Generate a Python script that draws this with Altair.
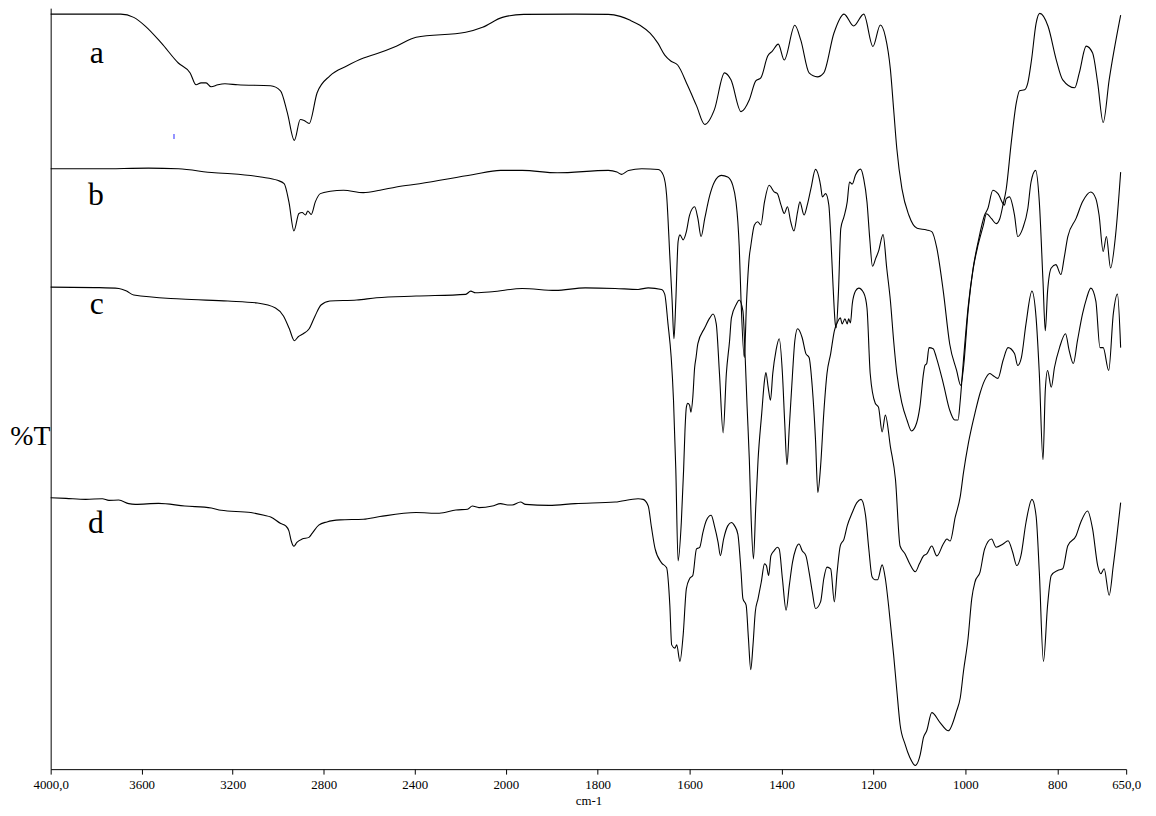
import altair as alt
import pandas as pd

# ---- spectrum a ----
wn_a = [4000, 3692, 3635, 3583, 3513, 3439, 3387, 3361, 3339, 3317, 3295, 3265, 3234, 3178, 3034, 2990, 2960, 2929,
        2903, 2886, 2864, 2829, 2773, 2699, 2625, 2568, 2481, 2394, 2176, 2102, 2015, 1961, 1849, 1777, 1751, 1729,
        1708, 1686, 1669, 1654, 1641, 1626, 1604, 1585, 1567, 1546, 1524, 1510, 1488, 1470, 1456, 1445, 1430, 1420,
        1407, 1394, 1371, 1358, 1340, 1322, 1308, 1286, 1264, 1243, 1221, 1201, 1185, 1174, 1163, 1156, 1149, 1138,
        1123, 1105, 1084, 1073, 1062, 1048, 1034, 1019, 1010, 1004, 994, 983, 972, 961, 954, 943, 933, 925, 918, 911,
        900, 889, 882, 871, 864, 856, 846, 838, 820, 802, 788, 762, 752, 737, 723, 712, 700, 687, 662]
t_a = [10.7, 10.7, 14, 23, 40, 60, 70, 82, 80, 80, 84, 82, 81, 82, 83, 88, 110, 138, 117, 118, 121, 90, 73, 63, 55,
       50.7, 43, 34, 29, 24, 14, 11, 10.7, 11, 13, 17, 22, 30, 40, 52, 58, 62, 83, 103, 122, 107, 70, 77, 109, 97, 78,
       75, 53, 48, 41, 57, 22, 37, 70, 74, 70, 30, 10.7, 22.7, 10.7, 43.3, 21.7, 33.3, 66.7, 106.7, 146.7, 186.7,
       213.3, 226.7, 228.3, 230, 246.7, 290, 343.3, 370, 385, 367, 310, 268, 243, 224, 212, 217, 222, 217, 203, 187,
       140, 100, 88, 87, 80, 57, 20, 10, 23, 57, 77, 85, 70, 43, 50, 80, 120, 77, 11.7]

# ---- spectrum b ----
wn_b = [4000, 3788, 3570, 3439, 3279, 3207, 3076, 3003, 2974, 2953, 2931, 2909, 2895, 2880, 2870, 2855, 2837, 2815,
        2771, 2713, 2626, 2553, 2481, 2379, 2147, 2023, 1964, 1888, 1777, 1758, 1748, 1733, 1704, 1668, 1657, 1650,
        1643, 1638, 1634, 1630, 1625, 1621, 1614, 1607, 1600, 1589, 1582, 1575, 1567, 1556, 1546, 1531, 1517, 1506,
        1499, 1495, 1492, 1488, 1481, 1476, 1470, 1467, 1459, 1452, 1445, 1437, 1427, 1416, 1409, 1401, 1394, 1387,
        1380, 1373, 1365, 1360, 1351, 1344, 1336, 1326, 1315, 1311, 1304, 1297, 1293, 1288, 1283, 1281, 1276, 1271,
        1264, 1257, 1252, 1246, 1239, 1228, 1221, 1214, 1208, 1202, 1195, 1189, 1179, 1171, 1163, 1156, 1149, 1138,
        1127, 1117, 1106, 1099, 1091, 1088, 1084, 1079, 1070, 1063, 1048, 1034, 1023, 1016, 1011, 1005, 994, 983, 972,
        958, 951, 940, 929, 915, 911, 904, 893, 886, 875, 864, 857, 847, 839, 831, 826, 821, 813, 803, 792, 785, 777,
        759, 745, 727, 716, 709, 700, 693, 684, 673, 662]
t_b = [166.7, 166.7, 166, 166.7, 170.7, 171.7, 175, 178.3, 181.7, 200, 229.3, 211.7, 210.7, 213.3, 209.3, 212.7, 200,
       191.7, 189.3, 188.3, 190.7, 188.3, 185, 181.7, 172.7, 168.3, 168.3, 170.7, 168.3, 170, 172.3, 168.3, 166.7,
       167.3, 173.3, 193.3, 255, 300, 338, 300, 240, 233.3, 238.3, 230, 213.3, 205, 216.7, 235, 216.7, 193.3, 180,
       173.3, 175, 183.3, 200, 220, 245, 300, 357, 300, 255, 245, 223.3, 220, 223.3, 200, 183.3, 190, 191.7, 203.3,
       211.7, 205, 220, 229.3, 210, 200, 213.3, 203.3, 186.7, 167.3, 183.3, 195, 191.7, 203.3, 233, 283, 323, 327,
       290, 227, 215, 200, 180, 182, 173, 167, 177, 200, 237, 265, 257, 250, 233, 267, 300, 340, 373, 403, 420, 431,
       423, 407, 373, 365, 363, 347, 348, 357, 383, 410, 420, 420, 400, 365, 306.7, 266.7, 240, 213.3, 206.7, 188.3,
       191.7, 203.3, 196.7, 195, 213.3, 235, 226.7, 206.7, 180, 168.3, 200, 280, 330, 290, 266.7, 263.3, 273.3, 256.7,
       235, 216.7, 200, 190, 196.7, 213.3, 250, 235, 266.7, 233.3, 170]

# ---- spectrum c ----
wn_c = [4000, 3788, 3700, 3666, 3635, 3426, 3221, 3091, 3012, 2977, 2951, 2929, 2912, 2890, 2864, 2838, 2812, 2773,
        2655, 2568, 2394, 2176, 2154, 2133, 2060, 1964, 1892, 1827, 1762, 1712, 1690, 1661, 1654, 1647, 1640, 1635,
        1630, 1625, 1618, 1613, 1610, 1607, 1604, 1600, 1597, 1593, 1589, 1586, 1582, 1567, 1556, 1549, 1542, 1535,
        1527, 1520, 1513, 1509, 1498, 1492, 1484, 1479, 1475, 1470, 1466, 1461, 1456, 1451, 1443, 1437, 1434, 1429,
        1424, 1419, 1412, 1405, 1398, 1393, 1388, 1383, 1376, 1371, 1365, 1355, 1347, 1340, 1333, 1326, 1321, 1315,
        1308, 1301, 1293, 1285, 1277, 1272, 1268, 1262, 1257, 1254, 1250, 1246, 1239, 1232, 1221, 1214, 1207, 1196,
        1189, 1181, 1174, 1163, 1152, 1142, 1131, 1121, 1109, 1100, 1091, 1084, 1073, 1062, 1048, 1040, 1033, 1022,
        1011, 1004, 994, 986, 979, 968, 958, 947, 940, 929, 918, 907, 893, 886, 878, 868, 855, 846, 839, 831, 826, 821,
        813, 806, 795, 782, 774, 765, 756, 745, 736, 727, 716, 707, 700, 688, 678, 669, 662]
t_c = [286, 286.5, 287.3, 290, 294, 298, 300, 302, 307, 315, 328, 340, 336, 333, 328, 315, 304, 300, 299, 296.7, 295,
       293.3, 290, 291.7, 290.7, 287.3, 289.3, 286.7, 287.3, 288.3, 286.7, 288.3, 293.3, 323, 357, 400, 470, 562, 523,
       470, 430, 407, 403, 405, 412, 397, 367, 357, 343, 327, 317, 313, 323, 373, 433, 373, 340, 317, 303, 299, 310,
       357, 405, 460, 520, 560, 507, 460, 413, 380, 372, 387, 400, 373, 350, 338, 373, 423, 465, 427, 373, 340, 328,
       337, 353, 357, 387, 440, 493, 467, 413, 373, 353, 330, 320, 317, 323, 318, 323, 318, 322, 303, 290, 287, 292,
       307, 373, 403, 407, 432, 415, 447, 480, 547, 555, 565, 573, 565, 557, 555, 547, 557, 545, 540, 542, 518, 497,
       473, 445, 427, 413, 393, 380, 373, 375, 378, 360, 347, 353, 365, 357, 323, 290, 317, 373, 460, 390, 370, 387,
       367, 347, 333, 350, 363, 340, 313, 297, 287, 300, 347, 347, 370, 313, 293, 347]

# ---- spectrum d ----
wn_d = [4000, 3933, 3846, 3773, 3744, 3701, 3657, 3628, 3526, 3410, 3294, 3251, 3120, 3062, 3033, 2989, 2967, 2953,
        2943, 2931, 2918, 2895, 2865, 2851, 2822, 2786, 2728, 2626, 2553, 2394, 2292, 2219, 2168, 2147, 2118, 2059,
        2023, 1996, 1986, 1968, 1957, 1906, 1849, 1762, 1712, 1701, 1690, 1683, 1675, 1661, 1650, 1643, 1639, 1632,
        1628, 1621, 1614, 1607, 1600, 1593, 1585, 1578, 1571, 1564, 1553, 1546, 1538, 1533, 1526, 1517, 1509, 1502,
        1495, 1488, 1484, 1477, 1472, 1467, 1462, 1457, 1451, 1444, 1437, 1433, 1428, 1423, 1416, 1409, 1405, 1398,
        1390, 1383, 1376, 1369, 1362, 1355, 1347, 1340, 1333, 1326, 1315, 1308, 1301, 1293, 1285, 1279, 1272, 1264,
        1257, 1246, 1236, 1227, 1217, 1210, 1203, 1197, 1191, 1181, 1174, 1167, 1156, 1149, 1142, 1131, 1121, 1109,
        1098, 1091, 1084, 1073, 1055, 1037, 1019, 1011, 1004, 994, 986, 979, 968, 958, 943, 933, 918, 907, 897, 888,
        879, 868, 855, 846, 839, 830, 821, 813, 799, 788, 777, 759, 749, 734, 723, 712, 705, 698, 687, 678, 662]
t_d = [498.3, 499, 500, 499.3, 501, 500.7, 504.3, 505, 504, 506.7, 508.7, 511, 513.3, 516, 517.7, 524.3, 526.7, 531.7,
       541.7, 547.3, 543.3, 540, 538.3, 534.3, 526, 522.7, 520.7, 520, 517.3, 513.3, 514, 510.7, 510, 506.7, 508.3,
       506.7, 504.3, 505.7, 505.7, 502.7, 505, 506, 504.3, 502.7, 499.3, 500, 506.7, 528, 550, 564, 569, 606.7, 646.7,
       650, 646.7, 663.3, 636.7, 590, 580, 576.7, 550, 548.3, 533.3, 521.7, 516, 526.7, 543.3, 556.7, 540, 526.7,
       523.3, 526.7, 535, 573.3, 600, 606.7, 640, 671.7, 646.7, 613.3, 600, 583.3, 565, 566.7, 576.7, 556.7, 551.7,
       548.3, 550, 580, 611.7, 586.7, 563.3, 550, 545, 551.7, 556.7, 573.3, 593.3, 610, 603.3, 580, 568.3, 570, 603.3,
       573.3, 546.7, 540, 526.7, 513.3, 503.3, 500, 516.7, 550, 578, 581, 581, 566, 580, 607, 657, 693, 727, 747, 760,
       768.3, 757, 740, 733.3, 715, 725, 733.3, 713.3, 700, 673.3, 640, 600, 583.3, 573.3, 550, 540, 548.3, 545, 541.7,
       553.3, 566.7, 556.7, 523.3, 500, 516.7, 573.3, 663.3, 606.7, 576.7, 571.7, 570, 546.7, 536.7, 523.3, 511.7,
       530, 566.7, 575, 570, 596.7, 566.7, 503.3]

# ---- trace labels ----
label_text = ["a", "b", "c", "d"]
label_wn = [3797, 3801, 3797, 3801]
label_t = [60, 203, 313, 534]

# ---- x axis ticks ----
tick_values = [4000, 3600, 3200, 2800, 2400, 2000, 1800, 1600, 1400, 1200, 1000, 800, 650]

# stray blue mark
blue_wn = [3458]
blue_t1 = [131.7]
blue_t2 = [136.7]

rows = []
for name, wn, tt in [("a", wn_a, t_a), ("b", wn_b, t_b), ("c", wn_c, t_c), ("d", wn_d, t_d)]:
    assert len(wn) == len(tt), name
    for w, v in zip(wn, tt):
        rows.append({"series": name, "wn": w, "t": v})
df = pd.DataFrame(rows)
labels = pd.DataFrame({"text": label_text, "wn": label_wn, "t": label_t})
blue = pd.DataFrame({"wn": blue_wn, "t": blue_t1, "t2": blue_t2})

SERIF = "Liberation Serif"
W, H = 1084, 767

x_scale = alt.Scale(domain=[4000, 2000, 650], range=[0, 458.7, W], nice=False, zero=False)
y_scale = alt.Scale(domain=[772, 4.7], nice=False, zero=False)

x_axis = alt.Axis(
    values=tick_values,
    labelExpr="datum.value == 4000 ? '4000,0' : (datum.value == 650 ? '650,0' : format(datum.value, 'd'))",
    title="cm-1", grid=False, tickSize=5, tickColor="black", domainColor="black",
    labelFont=SERIF, labelFontSize=13, labelColor="black", labelPadding=5,
    labelFlush=False, labelOverlap=False,
    titleFont=SERIF, titleFontSize=13, titleFontWeight="normal", titleColor="black", titlePadding=3,
)
y_axis = alt.Axis(
    title="%T", titleAngle=0, titleX=-21, titleY=440, titleAlign="center", titleBaseline="alphabetic",
    titleFont=SERIF, titleFontSize=28, titleFontWeight="normal", titleColor="black",
    ticks=False, labels=False, grid=False, domainColor="black",
)

lines = alt.Chart(df).mark_line(color="black", strokeWidth=1.1, interpolate="monotone").encode(
    x=alt.X("wn:Q", scale=x_scale, axis=x_axis),
    y=alt.Y("t:Q", scale=y_scale, axis=y_axis),
    detail="series:N",
    order=alt.Order("wn:Q", sort="descending"),
)

text = alt.Chart(labels).mark_text(font=SERIF, fontSize=32, align="center", baseline="alphabetic",
                                   color="black").encode(
    x=alt.X("wn:Q", scale=x_scale),
    y=alt.Y("t:Q", scale=y_scale),
    text="text:N",
)

mark = alt.Chart(blue).mark_rule(color="#7070ff", strokeWidth=1.5).encode(
    x=alt.X("wn:Q", scale=x_scale),
    y=alt.Y("t:Q", scale=y_scale),
    y2="t2:Q",
)

chart = alt.layer(lines, text, mark).properties(
    width=W, height=H,
    autosize=alt.AutoSizeParams(type="none"),
    padding={"left": 43, "top": -3, "right": 22, "bottom": 36},
    background="white",
).configure_view(stroke=None)

chart.save("out.html", embed_options={"renderer": "svg", "actions": False})
